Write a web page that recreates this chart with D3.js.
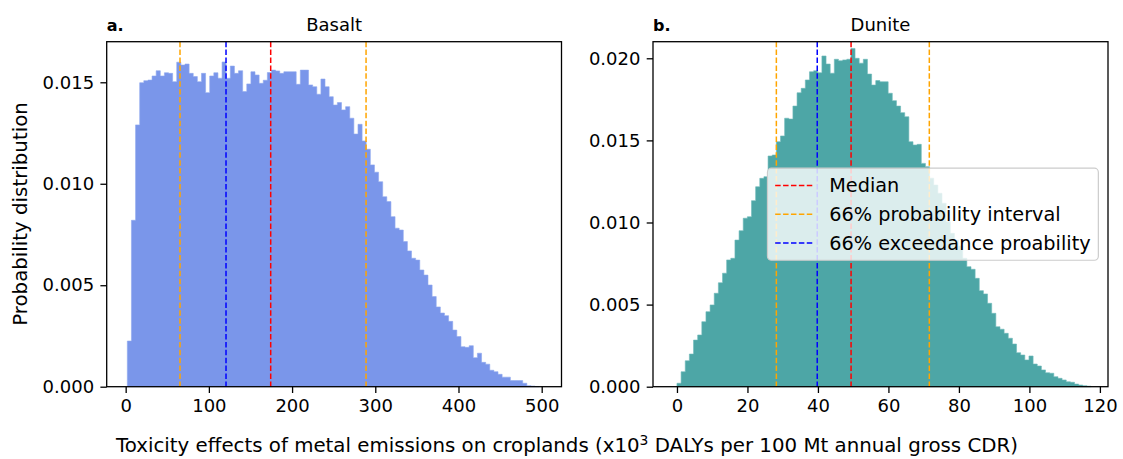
<!DOCTYPE html>
<html><head><meta charset="utf-8">
<script src="https://cdn.jsdelivr.net/npm/d3@7"></script>
<style>
body{margin:0;background:#fff}
svg{display:block}
text{font-family:"DejaVu Sans",sans-serif;fill:#000}
</style>
</head><body>
<svg id="chart" width="1123" height="459"></svg>
<script>
// ---------- data ----------
const basaltBinStart = 2.0;
const basaltBinWidth = 4.95;
const basaltValues = [
0.00225,0.0082,0.0129,0.01498,0.01508,0.01511,0.01531,0.01557,0.01531,0.01547,
0.01544,0.01503,0.01599,0.01585,0.0159,0.01544,0.01528,0.01503,0.01544,0.01449,
0.01531,0.01547,0.0152,0.0160,0.0152,0.0158,0.01544,0.01557,0.01454,0.01492,
0.01552,0.01536,0.01495,0.0151,0.01548,0.0156,0.01556,0.01544,0.01552,0.01552,
0.01552,0.0149,0.0156,0.0156,0.01487,0.01478,0.01441,0.01516,0.01478,0.01429,
0.01388,0.014,0.01364,0.0138,0.01323,0.01245,0.01293,0.01211,0.0117,0.01093,
0.01057,0.0101,0.00936,0.00912,0.00838,0.00781,0.00772,0.00715,0.00669,0.00633,
0.00624,0.00575,0.0055,0.00501,0.00444,0.00393,0.00363,0.0035,0.00322,0.00279,
0.00247,0.00197,0.00194,0.00202,0.00143,0.00165,0.0012,0.00111,0.00081,0.00074,
0.00061,0.00047,0.00047,0.0003,0.0003,0.0003,0.00017,0.00005,0.00003,0.00001];

const duniteBinStart = 0.0;
const duniteBinWidth = 1.175;
const duniteValues = [
0.00021,0.00091,0.00158,0.00199,0.00284,0.00315,0.00396,0.00457,0.00498,0.00569,
0.00633,0.00691,0.00772,0.00782,0.00893,0.0095,0.01026,0.01035,0.01133,0.01218,
0.01269,0.01279,0.01405,0.01411,0.01492,0.01527,0.01635,0.0163,0.01709,0.0179,
0.01817,0.01868,0.01918,0.01924,0.01912,0.02014,0.01965,0.01909,0.01994,0.01985,
0.0199,0.01994,0.0206,0.0200,0.0197,0.01994,0.01904,0.01837,0.01864,0.01857,
0.01857,0.01787,0.01742,0.01709,0.01669,0.01644,0.01492,0.01472,0.01476,0.0136,
0.0134,0.0127,0.01228,0.01178,0.01117,0.01005,0.00934,0.00893,0.00857,0.00782,
0.00731,0.00715,0.0066,0.00585,0.00565,0.00508,0.00447,0.00365,0.0035,0.00325,
0.00295,0.0026,0.00207,0.00193,0.00163,0.00187,0.00138,0.00126,0.00102,0.00085,
0.00082,0.00061,0.00051,0.00041,0.0003,0.00027,0.00016,0.0001,0.00006,0.00003];

const basaltMedian = 174.3;
const basaltInterval = [65.3, 288.9];
const basaltExceedance = 120.6;
const duniteMedian = 49.4;
const duniteInterval = [28.2, 71.6];
const duniteExceedance = 39.8;

const basaltXTicks = [0,100,200,300,400,500];
const basaltYTicks = [0,0.005,0.010,0.015];
const duniteXTicks = [0,20,40,60,80,100,120];
const duniteYTicks = [0,0.005,0.010,0.015,0.020];

const panelTitles = ["Basalt","Dunite"];
const panelLetters = ["a.","b."];
const legendLabels = ["Median","66% probability interval","66% exceedance proability"];
const legendColors = ["red","orange","blue"];

// ---------- layout ----------
const FS = 18;      // tick labels, titles
const FSL = 19.3;   // legend
const FSA = 19.8;   // axis labels
const svg = d3.select("#chart");
const axTop = 41.7, axBottom = 386.7;

function panel(opts){
  const g = svg.append("g");
  const x = d3.scaleLinear().domain(opts.xDomain).range(opts.xRange);
  const y = d3.scaleLinear().domain(opts.yDomain).range([axBottom, axTop]);

  const pts = opts.values.map((v,i)=>({x: opts.binStart + i*opts.binWidth, v}));
  pts.push({x: opts.binStart + opts.values.length*opts.binWidth, v: opts.values[opts.values.length-1]});
  const area = d3.area().curve(d3.curveStepAfter)
    .x(d=>x(d.x)).y0(y(0)).y1(d=>y(d.v));
  g.append("path").datum(pts).attr("d", area).attr("fill", opts.color)
    .attr("stroke", opts.edge).attr("stroke-width", 0.6);

  const lines = [
    {v: opts.median, c: "red"},
    {v: opts.interval[0], c: "orange"},
    {v: opts.interval[1], c: "orange"},
    {v: opts.exceed, c: "blue"}
  ];
  g.append("g").selectAll("line").data(lines).join("line")
    .attr("x1", d=>x(d.v)).attr("x2", d=>x(d.v))
    .attr("y1", axTop).attr("y2", axBottom)
    .attr("stroke", d=>d.c).attr("stroke-width", 1.5)
    .attr("stroke-dasharray", "5.5,2.4");

  g.append("rect").attr("x", opts.xRange[0]).attr("y", axTop)
    .attr("width", opts.xRange[1]-opts.xRange[0]).attr("height", axBottom-axTop)
    .attr("fill","none").attr("stroke","#000").attr("stroke-width",1.3);

  const xa = g.append("g").attr("transform",`translate(0,${axBottom})`)
    .call(d3.axisBottom(x).tickValues(opts.xTicks).tickSize(6.3).tickPadding(6.3).tickFormat(d3.format("d")));
  const ya = g.append("g").attr("transform",`translate(${opts.xRange[0]},0)`)
    .call(d3.axisLeft(y).tickValues(opts.yTicks).tickSize(6.3).tickPadding(6.3).tickFormat(d3.format(".3f")));
  [xa,ya].forEach(a=>{
    a.select(".domain").remove();
    a.selectAll(".tick line").attr("stroke","#000").attr("stroke-width",1.3);
    a.selectAll(".tick text").attr("font-size",FS).attr("font-family","DejaVu Sans").attr("fill","#000");
  });

  svg.append("text").attr("x",(opts.xRange[0]+opts.xRange[1])/2).attr("y",31)
    .attr("text-anchor","middle").attr("font-size",FS).text(opts.title);
  svg.append("text").attr("x",opts.xRange[0]).attr("y",31)
    .attr("font-size",16).attr("font-weight","bold").text(opts.letter);
  return {x,y,g};
}

panel({xDomain:[-22.8,523.8], xRange:[106.7,561.5], yDomain:[0,0.017],
  values:basaltValues, binStart:basaltBinStart, binWidth:basaltBinWidth,
  color:"#7A96EA", edge:"#8FA8EE",
  median:basaltMedian, interval:basaltInterval, exceed:basaltExceedance,
  xTicks:basaltXTicks, yTicks:basaltYTicks, title:panelTitles[0], letter:panelLetters[0]});

panel({xDomain:[-6.8,122.3], xRange:[653,1108], yDomain:[0,0.02101],
  values:duniteValues, binStart:duniteBinStart, binWidth:duniteBinWidth,
  color:"#4DA6A6", edge:"#6DB8B8",
  median:duniteMedian, interval:duniteInterval, exceed:duniteExceedance,
  xTicks:duniteXTicks, yTicks:duniteYTicks, title:panelTitles[1], letter:panelLetters[1]});

// legend (center right of panel b)
(function(){
  const axRight = 1108, axMid = (axTop+axBottom)/2;
  const pad = 0.4*FSL, hl = 2*FSL, htp = 0.8*FSL, ls = 0.5*FSL, bap = 0.5*FSL;
  const rowH = FSL*0.99;
  const lg = svg.append("g");
  const widths = legendLabels.map(l=>{
    const t = lg.append("text").attr("font-size",FSL).text(l);
    const w = t.node().getComputedTextLength(); t.remove(); return w;
  });
  const W = pad*2 + hl + htp + d3.max(widths);
  const H = pad*2 + rowH*legendLabels.length + ls*(legendLabels.length-1);
  const x0 = axRight - bap - W, y0 = axMid - H/2;
  lg.append("rect").attr("x",x0).attr("y",y0).attr("width",W).attr("height",H)
    .attr("rx",4).attr("ry",4)
    .attr("fill","#fff").attr("fill-opacity",0.8)
    .attr("stroke","#cccccc").attr("stroke-width",1.2);
  legendLabels.forEach((l,i)=>{
    const cy = y0 + pad + i*(rowH+ls) + rowH/2;
    lg.append("line").attr("x1",x0+pad).attr("x2",x0+pad+hl)
      .attr("y1",cy).attr("y2",cy).attr("stroke",legendColors[i])
      .attr("stroke-width",1.5).attr("stroke-dasharray","5.5,2.4");
    lg.append("text").attr("x",x0+pad+hl+htp).attr("y",cy).attr("dy","0.36em")
      .attr("font-size",FSL).text(l);
  });
})();

svg.append("text").attr("transform","translate(27,214) rotate(-90)")
  .attr("text-anchor","middle").attr("font-size",FSA).text("Probability distribution");
const xl = svg.append("text").attr("x",567).attr("y",452).attr("text-anchor","middle").attr("font-size",FSA);
xl.append("tspan").text("Toxicity effects of metal emissions on croplands (x10");
xl.append("tspan").attr("font-size",FSA*0.7).attr("dy",-7.5).text("3");
xl.append("tspan").attr("dy",7.5).text(" DALYs per 100 Mt annual gross CDR)");
</script>
</body></html>
